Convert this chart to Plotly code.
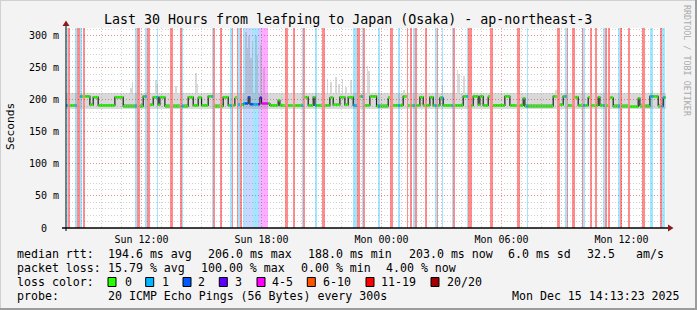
import numpy as np
import pandas as pd
import plotly.graph_objects as go

# ---------------- data ----------------
T_START = "2025-12-14 08:13:23"
T_END = "2025-12-15 14:13:23"
Y_MAX = 311.7

y_tick_vals = [0, 50, 100, 150, 200, 250, 300]
y_tick_text = ["0\u00a0\u00a0", "50 m", "100 m", "150 m", "200 m", "250 m", "300 m"]

# median rtt (ms), step change points
median_times = [
    "2025-12-14 08:10", "2025-12-14 08:55", "2025-12-14 09:25", "2025-12-14 09:35",
    "2025-12-14 09:50", "2025-12-14 10:40", "2025-12-14 11:05", "2025-12-14 12:05",
    "2025-12-14 12:20", "2025-12-14 12:35", "2025-12-14 12:50", "2025-12-14 12:55",
    "2025-12-14 13:10", "2025-12-14 14:20", "2025-12-14 14:35", "2025-12-14 14:50",
    "2025-12-14 15:00", "2025-12-14 15:20", "2025-12-14 15:35", "2025-12-14 16:05",
    "2025-12-14 16:20", "2025-12-14 16:40", "2025-12-14 16:50", "2025-12-14 17:05",
    "2025-12-14 17:20", "2025-12-14 17:25", "2025-12-14 17:55", "2025-12-14 18:00",
    "2025-12-14 18:25", "2025-12-14 18:50", "2025-12-14 18:55", "2025-12-14 20:05",
    "2025-12-14 20:20", "2025-12-14 20:35", "2025-12-14 20:40", "2025-12-14 21:25",
    "2025-12-14 21:35", "2025-12-14 21:55", "2025-12-14 22:10", "2025-12-14 22:20",
    "2025-12-14 22:35", "2025-12-14 22:55", "2025-12-14 23:05", "2025-12-14 23:25",
    "2025-12-14 23:45",
    "2025-12-15 00:20", "2025-12-15 00:25", "2025-12-15 01:05", "2025-12-15 01:20",
    "2025-12-15 01:55", "2025-12-15 02:05", "2025-12-15 02:25", "2025-12-15 02:35",
    "2025-12-15 02:55", "2025-12-15 03:05", "2025-12-15 04:05", "2025-12-15 04:20",
    "2025-12-15 04:35", "2025-12-15 04:50", "2025-12-15 04:55", "2025-12-15 05:05",
    "2025-12-15 05:20", "2025-12-15 05:35", "2025-12-15 06:10", "2025-12-15 06:25",
    "2025-12-15 07:05", "2025-12-15 07:10", "2025-12-15 08:35", "2025-12-15 08:55",
    "2025-12-15 09:05", "2025-12-15 09:20", "2025-12-15 09:40", "2025-12-15 09:50",
    "2025-12-15 10:20", "2025-12-15 10:25", "2025-12-15 10:50", "2025-12-15 10:55",
    "2025-12-15 11:25", "2025-12-15 11:35", "2025-12-15 12:20", "2025-12-15 12:25",
    "2025-12-15 12:50", "2025-12-15 12:55", "2025-12-15 13:25", "2025-12-15 13:50",
    "2025-12-15 14:05",
]
median_values = [
    191, 205, 192, 204,
    191, 204, 190, 205,
    192, 204, 192, 204,
    190, 204, 191, 203,
    191, 205, 190, 204,
    191, 203, 192, 194,
    204, 193, 203, 194,
    191, 199, 191, 204,
    191, 204, 191, 203,
    192, 204, 192, 204,
    191, 205, 191, 205,
    190,
    203, 191, 205, 191,
    204, 191, 204, 191,
    203, 191, 205, 191,
    205, 192, 205, 191,
    205, 191, 205, 191,
    202, 190, 205, 192,
    205, 191, 204, 191,
    204, 191, 204, 191,
    203, 190, 203, 189,
    202, 190, 205, 190,
    203,
]

# packet-loss events: start of 5-minute step, number of steps, loss class
loss_start = [
    "2025-12-14 08:15", "2025-12-14 08:20", "2025-12-14 08:40", "2025-12-14 08:45",
    "2025-12-14 08:55", "2025-12-14 09:05", "2025-12-14 11:40", "2025-12-14 11:45",
    "2025-12-14 12:10", "2025-12-14 12:15", "2025-12-14 12:45", "2025-12-14 13:25",
    "2025-12-14 13:55", "2025-12-14 14:00", "2025-12-14 15:30", "2025-12-14 15:35",
    "2025-12-14 15:55", "2025-12-14 16:25", "2025-12-14 16:30", "2025-12-14 16:45",
    "2025-12-14 16:50", "2025-12-14 16:55", "2025-12-14 17:05", "2025-12-14 17:10",
    "2025-12-14 17:35", "2025-12-14 17:50", "2025-12-14 18:00", "2025-12-14 19:10",
    "2025-12-14 19:35", "2025-12-14 20:00", "2025-12-14 20:05", "2025-12-14 20:40",
    "2025-12-14 21:00", "2025-12-14 22:35", "2025-12-14 22:45", "2025-12-14 23:00",
    "2025-12-14 23:05", "2025-12-14 23:50",
    "2025-12-15 00:25", "2025-12-15 00:50", "2025-12-15 01:15", "2025-12-15 01:25",
    "2025-12-15 01:35", "2025-12-15 01:40", "2025-12-15 02:10", "2025-12-15 02:40",
    "2025-12-15 02:45", "2025-12-15 03:00", "2025-12-15 03:30", "2025-12-15 03:35",
    "2025-12-15 04:15", "2025-12-15 04:20", "2025-12-15 05:25", "2025-12-15 06:45",
    "2025-12-15 07:15", "2025-12-15 08:45", "2025-12-15 09:10", "2025-12-15 09:15",
    "2025-12-15 09:30", "2025-12-15 10:00", "2025-12-15 10:05", "2025-12-15 10:25",
    "2025-12-15 10:40", "2025-12-15 11:05", "2025-12-15 11:10", "2025-12-15 11:20",
    "2025-12-15 11:50", "2025-12-15 11:55", "2025-12-15 12:20", "2025-12-15 13:00",
    "2025-12-15 13:25", "2025-12-15 13:55", "2025-12-15 14:00",
]
loss_steps = [
    1, 1, 1, 2,
    1, 1, 1, 2,
    1, 2, 1, 2,
    1, 1, 1, 1,
    1, 1, 1, 1,
    1, 1, 1, 5,
    3, 2, 4, 2,
    1, 1, 1, 1,
    2, 2, 2, 1,
    1, 1,
    2, 1, 1, 1,
    1, 1, 1, 1,
    1, 1, 1, 1,
    1, 2, 2, 2,
    1, 2, 1, 1,
    2, 1, 1, 1,
    1, 1, 1, 1,
    1, 1, 1, 2,
    2, 1, 2,
]
loss_class = [
    "1", "20/20", "1", "20/20",
    "1", "20/20", "1", "20/20",
    "1", "20/20", "1", "20/20",
    "20/20", "1", "1", "20/20",
    "20/20", "1", "20/20", "20/20",
    "1", "20/20", "1", "2",
    "1", "3", "4-5", "20/20",
    "20/20", "1", "20/20", "1",
    "20/20", "1", "20/20", "1",
    "20/20", "1",
    "20/20", "1", "20/20", "20/20",
    "1", "20/20", "20/20", "1",
    "20/20", "1", "1", "20/20",
    "1", "20/20", "20/20", "20/20",
    "1", "20/20", "1", "20/20",
    "20/20", "20/20", "1", "20/20",
    "20/20", "1", "20/20", "20/20",
    "1", "20/20", "20/20", "20/20",
    "1", "20/20", "1",
]

# smoke (spread of the 20 pings)
smoke_floor = 185
smoke_ceiling = 210
smoke_core_half = 2.5
spike_times = [
    "2025-12-14 11:25", "2025-12-14 11:30", "2025-12-14 12:40", "2025-12-14 12:45",
    "2025-12-14 13:40", "2025-12-14 14:40", "2025-12-14 14:45", "2025-12-14 17:10",
    "2025-12-14 17:15", "2025-12-14 17:20", "2025-12-14 17:25", "2025-12-14 17:30",
    "2025-12-14 17:40", "2025-12-14 17:45", "2025-12-14 17:55", "2025-12-14 18:05",
    "2025-12-14 21:15", "2025-12-14 21:25", "2025-12-14 21:40", "2025-12-14 21:50",
    "2025-12-14 22:00", "2025-12-14 22:10", "2025-12-14 22:25", "2025-12-14 23:15",
    "2025-12-14 23:20", "2025-12-15 01:05", "2025-12-15 03:00", "2025-12-15 03:45",
    "2025-12-15 03:50", "2025-12-15 04:05", "2025-12-15 08:40", "2025-12-15 13:30",
]
spike_tops = [
    218, 228, 231, 225,
    221, 242, 225, 305,
    280, 300, 265, 290,
    300, 270, 285, 250,
    233, 228, 235, 225,
    232, 220, 231, 252,
    245, 215, 223, 247,
    240, 237, 215, 214,
]

legend_classes = ["0", "1", "2", "3", "4-5", "6-10", "11-19", "20/20"]
legend_colors = ["#26ff00", "#00b8ff", "#0059ff", "#5e00ff", "#ff00ff", "#ff5500", "#ff0000", "#a10000"]
loss_bg_colors = {
    "1": "rgba(0,184,255,0.36)",
    "2": "rgba(40,100,255,0.26)",
    "3": "rgba(110,40,255,0.28)",
    "4-5": "rgba(255,0,255,0.33)",
    "20/20": "rgba(255,0,0,0.45)",
}
median_colors = dict(zip(legend_classes, legend_colors))

# ---------------- layout geometry ----------------
W, H = 697, 310
ML, MR, MT, MB = 66, 31, 28, 82
PW, PH = W - ML - MR, H - MT - MB
FONT = "DejaVu Sans Mono"


def px(x):
    return (x - ML) / PW


def py(y):
    return (H - MB - y) / PH


STEP = pd.Timedelta(minutes=5)
HALF = pd.Timedelta(seconds=150)

samples = pd.date_range("2025-12-14 08:10", "2025-12-15 14:10", freq="5min")
mt = pd.to_datetime(median_times)
idx = np.searchsorted(mt.values, samples.values, side="right") - 1
median = np.array(median_values, dtype=float)[idx]

cls = np.array(["0"] * len(samples), dtype=object)
for t, n, c in zip(loss_start, loss_steps, loss_class):
    i = samples.get_loc(pd.Timestamp(t))
    cls[i:i + n] = c

alive = cls != "20/20"
median[~alive] = np.nan

fig = go.Figure()

# loss background
for c, col in loss_bg_colors.items():
    m = cls == c
    if not m.any():
        continue
    fig.add_trace(go.Bar(
        x=samples[m] + HALF, y=[Y_MAX] * int(m.sum()), base=0,
        width=300000, marker=dict(color=col, line=dict(width=0)),
        hoverinfo="skip", showlegend=False))

# smoke
SMOKE = "rgba(140,140,140,0.33)"
fig.add_trace(go.Bar(
    x=samples[alive] + HALF, y=[smoke_ceiling - smoke_floor] * int(alive.sum()),
    base=smoke_floor, width=300000,
    marker=dict(color=SMOKE, line=dict(width=0)),
    hoverinfo="skip", showlegend=False))
fig.add_trace(go.Bar(
    x=pd.to_datetime(spike_times) + HALF,
    y=[v - smoke_ceiling for v in spike_tops], base=smoke_ceiling, width=300000,
    marker=dict(color=SMOKE, line=dict(width=0)),
    hoverinfo="skip", showlegend=False))
fig.add_trace(go.Bar(
    x=samples[alive] + HALF, y=[2 * smoke_core_half] * int(alive.sum()),
    base=median[alive] - smoke_core_half, width=300000,
    marker=dict(color="rgba(80,80,80,0.35)", line=dict(width=0)),
    hoverinfo="skip", showlegend=False))

# median black line
xs = list(samples) + [samples[-1] + STEP]
ys = list(median) + [median[-1]]
fig.add_trace(go.Scatter(
    x=xs, y=[None if np.isnan(v) else v for v in ys], mode="lines",
    line=dict(color="#202020", width=1.2, shape="hv"), connectgaps=False,
    hoverinfo="skip", showlegend=False))

# median coloured by loss
for c in ["0", "1", "2", "3", "4-5"]:
    sx, sy = [], []
    for t, v, k in zip(samples, median, cls):
        if k == c and not np.isnan(v):
            sx += [t, t + STEP, None]
            sy += [v, v, None]
    if sx:
        fig.add_trace(go.Scatter(
            x=sx, y=sy, mode="lines", line=dict(color=median_colors[c], width=2.4),
            hoverinfo="skip", showlegend=False))

# ---------------- decorations ----------------
shapes = []
# outer frame
shapes += [
    dict(type="line", xref="paper", yref="paper", x0=px(0), x1=px(W), y0=py(0.5), y1=py(0.5),
         line=dict(color="#d0d0d0", width=1)),
    dict(type="line", xref="paper", yref="paper", x0=px(0.5), x1=px(0.5), y0=py(0), y1=py(H),
         line=dict(color="#d0d0d0", width=1)),
    dict(type="line", xref="paper", yref="paper", x0=px(W - 1), x1=px(W - 1), y0=py(0), y1=py(H),
         line=dict(color="#9c9c9c", width=2)),
    dict(type="line", xref="paper", yref="paper", x0=px(0), x1=px(W), y0=py(H - 1), y1=py(H - 1),
         line=dict(color="#9c9c9c", width=2)),
]
# axes with arrows
shapes += [
    dict(type="line", xref="paper", yref="paper", x0=px(62), x1=px(669), y0=py(228), y1=py(228),
         line=dict(color="#000000", width=1.3)),
    dict(type="line", xref="paper", yref="paper", x0=px(66), x1=px(66), y0=py(231), y1=py(24),
         line=dict(color="#000000", width=1)),
    dict(type="path", xref="paper", yref="paper",
         path=f"M {px(668)} {py(224.5)} L {px(673.5)} {py(228)} L {px(668)} {py(231.5)} Z",
         fillcolor="#8b1a1a", line=dict(width=0)),
    dict(type="path", xref="paper", yref="paper",
         path=f"M {px(62.5)} {py(26)} L {px(66)} {py(20.5)} L {px(69.5)} {py(26)} Z",
         fillcolor="#8b1a1a", line=dict(width=0)),
]
# legend swatches
swatch_x = [108, 145.7, 183, 219.3, 257, 307.3, 366, 431]
for x0, col in zip(swatch_x, legend_colors):
    shapes.append(dict(type="rect", xref="paper", yref="paper",
                       x0=px(x0), x1=px(x0 + 8), y0=py(277.5), y1=py(286.5),
                       fillcolor=col, line=dict(color="#000000", width=1)))

ann = []


def text(s, x, y, size=11.6, anchor="left", color="#000000", angle=0):
    ann.append(dict(text=s, xref="paper", yref="paper", x=px(x), y=py(y),
                    xanchor=anchor, yanchor="middle", showarrow=False,
                    textangle=angle, borderpad=0,
                    font=dict(family=FONT, size=size, color=color)))


text("Last 30 Hours from leafping to Japan (Osaka) - ap-northeast-3", 348, 19, size=13.3, anchor="center")
text("Seconds", 10, 127, size=11.2, anchor="center", angle=-90)
text("RRDTOOL / TOBI OETIKER", 687, 61, size=8.4, anchor="center", color="#ababab", angle=90)

row1 = [("median rtt:", 16), ("194.6 ms avg", 107.3), ("206.0 ms max", 207.3), ("188.0 ms min", 307.3),
        ("203.0 ms now", 407.7), ("6.0 ms sd", 506.7), ("32.5", 586), ("am/s", 635)]
row2 = [("packet loss:", 16), ("15.79 % avg", 107), ("100.00 % max", 200), ("0.00 % min", 300),
        ("4.00 % now", 385)]
row3 = [("loss color:", 16)] + list(zip(legend_classes, [124, 161, 197, 234, 271, 322, 380, 446]))
row4 = [("probe:", 16), ("20 ICMP Echo Pings (56 Bytes) every 300s", 107)]
for rowy, row in [(254.3, row1), (268.3, row2), (282.3, row3), (296.3, row4)]:
    for s, x in row:
        text(s, x, rowy)
text("Mon Dec 15 14:13:23 2025", 680.5, 296.3, anchor="right")

fig.update_layout(
    width=W, height=H, margin=dict(l=ML, r=MR, t=MT, b=MB, pad=0),
    paper_bgcolor="#f3f3f3", plot_bgcolor="#ffffff",
    barmode="overlay", bargap=0, showlegend=False,
    shapes=shapes, annotations=ann,
    font=dict(family=FONT, size=10, color="#000000"),
)
fig.update_xaxes(
    type="date", range=[T_START, T_END], tickformat="%a %H:%M",
    tick0="2025-12-14 00:00", dtick=6 * 3600000,
    showgrid=True, gridcolor="rgba(240,110,110,0.7)", griddash="1px,2px", gridwidth=1,
    minor=dict(dtick=3600000, showgrid=True, gridcolor="rgba(150,150,150,0.45)", griddash="1px,2px"),
    showline=False, zeroline=False, ticks="", ticklabelstandoff=4,
    tickfont=dict(family=FONT, size=10, color="#000000"), fixedrange=True,
)
fig.update_yaxes(
    range=[0, Y_MAX], tickmode="array", tickvals=y_tick_vals, ticktext=y_tick_text,
    showgrid=True, gridcolor="rgba(240,110,110,0.7)", griddash="1px,2px", gridwidth=1,
    minor=dict(tickmode="linear", tick0=0, dtick=10, showgrid=True,
               gridcolor="rgba(150,150,150,0.45)", griddash="1px,2px"),
    showline=False, zeroline=False, ticks="", ticklabelstandoff=6,
    tickfont=dict(family=FONT, size=10, color="#000000"), fixedrange=True,
)

fig.write_html("out.html")
